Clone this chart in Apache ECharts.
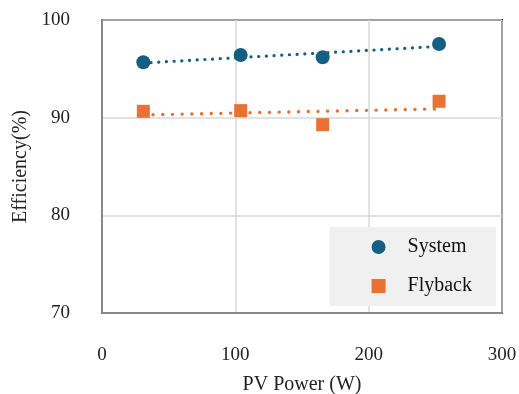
<!DOCTYPE html>
<html>
<head>
<meta charset="utf-8">
<script src="https://cdn.jsdelivr.net/npm/echarts@6/dist/echarts.min.js"></script>
<style>
    html, body { margin: 0; padding: 0; background: #fff; }
    #effChart { width: 519px; height: 394px; }
</style>
</head>
<body>
<div id="effChart"></div>
<script>
    // values
    const pvPower = [31, 104, 165.5, 252.8]
    const systemEff = [95.67, 96.42, 96.18, 97.54]
    const flybackEff = [90.65, 90.72, 89.28, 91.68]
    // dotted trend lines (end points)
    const systemTrend = [[31, 95.6], [252.8, 97.3]]
    const flybackTrend = [[31, 90.28], [252.8, 90.9]]
    const xTicks = [0, 100, 200, 300]
    const yTicks = [70, 80, 90, 100]

    const font = 'Liberation Serif'
    const blue = '#156082'
    const orange = '#E97132'

    const myChart = echarts.init(document.getElementById('effChart'))
    const option = {
        animation: false,
        grid: {
            left: 102,
            top: 20,
            right: 17,
            bottom: 81,
            outerBoundsMode: 'none',
            containLabel: false,
            show: true,
            borderColor: '#000',
            borderWidth: 2
        },
        legend: {
            orient: 'vertical',
            right: 23,
            top: 227,
            padding: [10, 24, 10, 42],
            backgroundColor: '#f0f0f0',
            itemWidth: 14,
            itemHeight: 14,
            itemGap: 19,
            textStyle: {
                fontFamily: font,
                fontSize: 20,
                color: '#111',
                padding: [0, 0, 0, 17]
            },
            data: [
                { name: 'System', icon: 'circle' },
                { name: 'Flyback', icon: 'rect' }
            ]
        },
        xAxis: {
            type: 'value',
            min: xTicks[0],
            max: xTicks[xTicks.length - 1],
            interval: 100,
            name: 'PV Power (W)',
            nameLocation: 'middle',
            nameGap: 62,
            nameTextStyle: { fontFamily: font, fontSize: 20, color: '#222' },
            axisLine: { show: true, onZero: false, lineStyle: { color: '#888', width: 2 } },
            axisTick: { show: false },
            axisLabel: {
                margin: 33,
                fontFamily: font,
                fontSize: 19,
                color: '#222'
            },
            splitLine: { show: true, lineStyle: { color: '#d9d9d9', width: 1.5 } }
        },
        yAxis: {
            type: 'value',
            min: yTicks[0],
            max: yTicks[yTicks.length - 1],
            interval: 10,
            name: 'Efficiency(%)',
            nameLocation: 'middle',
            nameGap: 65,
            nameTextStyle: { fontFamily: font, fontSize: 20, color: '#222' },
            axisLine: { show: true, lineStyle: { color: '#888', width: 2 } },
            axisTick: { show: false },
            axisLabel: {
                margin: 32,
                fontFamily: font,
                fontSize: 19,
                color: '#222'
            },
            splitLine: { show: true, lineStyle: { color: '#d9d9d9', width: 1.5 } }
        },
        series: [
            {
                name: 'System trend',
                type: 'line',
                data: systemTrend,
                symbol: 'none',
                silent: true,
                lineStyle: { color: blue, width: 3.2, type: [0.1, 7.6], cap: 'round' },
                z: 2
            },
            {
                name: 'Flyback trend',
                type: 'line',
                data: flybackTrend,
                symbol: 'none',
                silent: true,
                lineStyle: { color: orange, width: 3.4, type: [0.1, 9.6], cap: 'round' },
                z: 2
            },
            {
                name: 'System',
                type: 'scatter',
                symbol: 'circle',
                symbolSize: 14,
                itemStyle: { color: blue, opacity: 1 },
                data: pvPower.map((p, i) => [p, systemEff[i]]),
                z: 3
            },
            {
                name: 'Flyback',
                type: 'scatter',
                symbol: 'rect',
                symbolSize: 13,
                itemStyle: { color: orange, opacity: 1 },
                data: pvPower.map((p, i) => [p, flybackEff[i]]),
                z: 3
            }
        ]
    }
    myChart.setOption(option)
</script>
</body>
</html>
